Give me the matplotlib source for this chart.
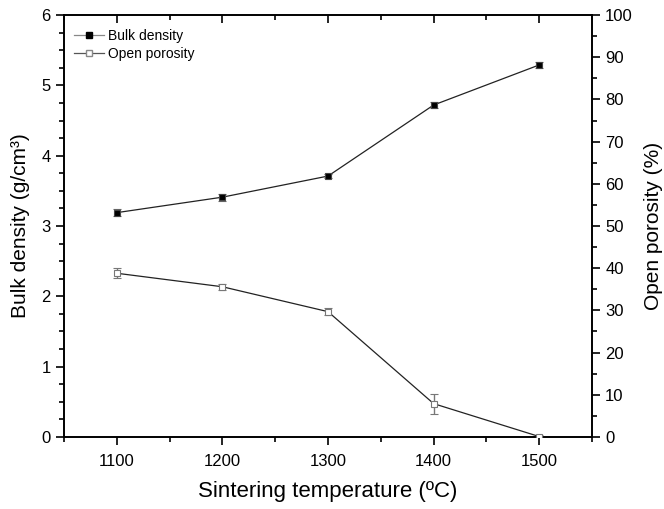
import numpy as np
import matplotlib.pyplot as plt
from matplotlib.ticker import MultipleLocator
from matplotlib.lines import Line2D

plt.rcParams['font.family'] = ['Liberation Sans', 'DejaVu Sans']

temperature = [1100, 1200, 1300, 1400, 1500]
bulk_density = [3.19, 3.41, 3.71, 4.72, 5.29]
bulk_err = [0.05, 0.05, 0.03, 0.04, 0.04]
open_porosity = [38.8, 35.6, 29.7, 7.9, 0.1]
porosity_err = [1.2, 0.7, 0.9, 2.4, 0.3]

fig = plt.figure(figsize=(6.64, 5.09), dpi=100)
ax = fig.add_axes([0.0964, 0.1415, 0.7952, 0.829])
ax2 = ax.twinx()

ax.errorbar(temperature, bulk_density, yerr=bulk_err, color='#222222', lw=0.9,
            marker='s', ms=5, mfc='black', mec='#444444', mew=0.8,
            ecolor='#666666', elinewidth=1, capsize=3, capthick=1, zorder=3)
ax2.errorbar(temperature, open_porosity, yerr=porosity_err, color='#222222', lw=0.9,
             marker='s', ms=5, mfc='white', mec='#777777', mew=0.8,
             ecolor='#777777', elinewidth=1, capsize=3, capthick=1, zorder=3)

ax.set_xlim(1050, 1550)
ax.set_ylim(0, 6)
ax2.set_ylim(0, 100)

ax.xaxis.set_major_locator(MultipleLocator(100))
ax.xaxis.set_minor_locator(MultipleLocator(50))
ax.yaxis.set_major_locator(MultipleLocator(1))
ax.yaxis.set_minor_locator(MultipleLocator(0.25))
ax2.yaxis.set_major_locator(MultipleLocator(10))
ax2.yaxis.set_minor_locator(MultipleLocator(5))

ax.tick_params(axis='both', which='major', direction='out', length=6, width=1.2,
               labelsize=12, colors='black')
ax.tick_params(axis='both', which='minor', direction='out', length=3.5, width=1.2)
ax.tick_params(axis='x', which='both', top=True)
ax.tick_params(axis='x', which='major', pad=6)
ax2.tick_params(axis='y', which='major', direction='out', length=6, width=1.2, labelsize=12)
ax2.tick_params(axis='y', which='minor', direction='out', length=3.5, width=1.2)

# top axis ticks point into the plot
for t in ax.xaxis.get_major_ticks() + ax.xaxis.get_minor_ticks():
    t.tick2line.set_marker(3)

for a in (ax, ax2):
    for s in a.spines.values():
        s.set_linewidth(1.2)

ax.set_xlabel('Sintering temperature (ºC)', fontsize=16, labelpad=9)
ax.set_ylabel('Bulk density (g/cm³)', fontsize=15, labelpad=8)
ax2.set_ylabel('Open porosity (%)', fontsize=15, labelpad=8)

handles = [
    Line2D([], [], color='#888888', lw=0.9, marker='s', ms=4, mfc='black', mec='black'),
    Line2D([], [], color='#555555', lw=0.9, marker='s', ms=4, mfc='white', mec='#888888'),
]
ax.legend(handles, ['Bulk density', 'Open porosity'], loc='upper left', frameon=False,
          fontsize=10, handlelength=2.2, handletextpad=0.3, labelspacing=0.3,
          borderaxespad=0.3, bbox_to_anchor=(0.0, 0.99))

fig.savefig('out.png', dpi=100)
